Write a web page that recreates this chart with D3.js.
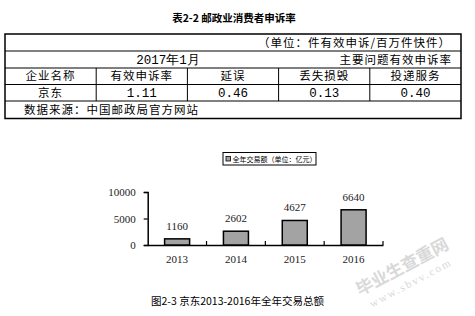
<!DOCTYPE html>
<html>
<head>
<meta charset="utf-8">
<script src="https://cdn.jsdelivr.net/npm/d3@7.9.0/dist/d3.min.js"></script>
<style>
  body { margin: 0; background: #fff; }
  svg { display: block; }
</style>
</head>
<body>
<svg id="chart" width="475" height="316"></svg>
<script>
// table data
const tableTitle = '表2-2 邮政业消费者申诉率';
const unitNote = '（单位：件有效申诉/百万件快件）';
const periodLabel = '2017年1月';
const groupLabel = '主要问题有效申诉率';
const headers = ['企业名称', '有效申诉率', '延误', '丢失损毁', '投递服务'];
const rowValues = ['京东', '1.11', '0.46', '0.13', '0.40'];
const sourceNote = '数据来源：中国邮政局官方网站';

// chart data
const years = ['2013', '2014', '2015', '2016'];
const volumes = [1160, 2602, 4627, 6640];
const yTicks = [0, 5000, 10000];
const legendLabel = '全年交易额（单位：亿元）';
const chartCaption = '图2-3 京东2013-2016年全年交易总额';

const svg = d3.select('#chart');
const cjk = '"Noto Sans CJK SC", sans-serif';
const mono = '"Liberation Mono", "DejaVu Sans Mono", monospace';
const serif = '"Liberation Serif", "DejaVu Serif", serif';
const fs = 11.5;

// ---- table ----
svg.append('text')
  .attr('x', 234).attr('y', 22)
  .attr('text-anchor', 'middle')
  .attr('font-family', cjk).attr('font-size', 10.5).attr('font-weight', 'bold')
  .text(tableTitle);

const tLeft = 5, tRight = 461;
const rowY = [34, 51, 68, 84.5, 101, 118.5];
const colX = d3.range(6).map(i => tLeft + i * (tRight - tLeft) / 5);

const t = svg.append('g');
t.append('rect')
  .attr('x', tLeft).attr('y', rowY[0])
  .attr('width', tRight - tLeft).attr('height', rowY[5] - rowY[0])
  .attr('fill', 'none').attr('stroke', '#000').attr('stroke-width', 1.5);

t.selectAll('line.h')
  .data(rowY.slice(1, 5))
  .join('line')
    .attr('x1', tLeft).attr('x2', tRight)
    .attr('y1', d => d).attr('y2', d => d)
    .attr('stroke', '#000').attr('stroke-width', 1);

t.selectAll('line.v')
  .data(colX.slice(1, 5))
  .join('line')
    .attr('x1', d => d).attr('x2', d => d)
    .attr('y1', rowY[2]).attr('y2', rowY[4])
    .attr('stroke', '#000').attr('stroke-width', 1);

function mid(i) { return (rowY[i] + rowY[i + 1]) / 2; }

t.append('text')
  .attr('x', 451).attr('y', mid(0)).attr('dy', '0.36em')
  .attr('text-anchor', 'end')
  .attr('font-family', cjk).attr('font-size', fs).attr('letter-spacing', 1)
  .text(unitNote);

t.append('text')
  .attr('x', 168).attr('y', mid(1)).attr('dy', '0.36em')
  .attr('text-anchor', 'middle')
  .attr('font-family', mono).attr('font-size', 12.5)
  .text(periodLabel);

t.append('text')
  .attr('x', 452).attr('y', mid(1)).attr('dy', '0.36em')
  .attr('text-anchor', 'end')
  .attr('font-family', cjk).attr('font-size', fs).attr('letter-spacing', 1)
  .text(groupLabel);

t.selectAll('text.head')
  .data(headers)
  .join('text')
    .attr('x', (d, i) => (colX[i] + colX[i + 1]) / 2)
    .attr('y', mid(2)).attr('dy', '0.36em')
    .attr('text-anchor', 'middle')
    .attr('font-family', cjk).attr('font-size', fs).attr('letter-spacing', 1)
    .text(d => d);

t.selectAll('text.val')
  .data(rowValues)
  .join('text')
    .attr('x', (d, i) => (colX[i] + colX[i + 1]) / 2)
    .attr('y', mid(3)).attr('dy', '0.36em')
    .attr('text-anchor', 'middle')
    .attr('font-family', (d, i) => i === 0 ? cjk : mono)
    .attr('font-size', (d, i) => i === 0 ? fs : 12.5)
    .attr('letter-spacing', (d, i) => i === 0 ? 1 : 0)
    .text(d => d);

t.append('text')
  .attr('x', 24).attr('y', mid(4)).attr('dy', '0.36em')
  .attr('font-family', cjk).attr('font-size', fs).attr('letter-spacing', 1)
  .text(sourceNote);

// ---- bar chart ----
const x = d3.scaleBand()
  .domain(years)
  .range([147.7, 383])
  .paddingInner(0.575)
  .paddingOuter(0.2875);

const y = d3.scaleLinear()
  .domain([0, 10000])
  .range([245, 192]);

const chart = svg.append('g');

// y axis
const yAxis = chart.append('g')
  .attr('transform', `translate(${x.range()[0]},0)`)
  .call(d3.axisLeft(y).tickValues(yTicks).tickFormat(d3.format('d'))
    .tickSize(4).tickSizeOuter(4).tickPadding(8));
yAxis.select('.domain').attr('stroke-width', 1.5);
yAxis.selectAll('.tick line').attr('stroke-width', 1.2);
yAxis.selectAll('.tick text')
  .attr('font-family', serif).attr('font-size', 11).attr('fill', '#222');

// x axis
const xAxis = chart.append('g')
  .attr('transform', `translate(0,${y(0)})`)
  .call(d3.axisBottom(x).tickSize(0).tickPadding(10));
xAxis.select('.domain').attr('stroke-width', 1.5);
xAxis.selectAll('.tick text')
  .attr('font-family', serif).attr('font-size', 11).attr('fill', '#222');

// category boundary ticks (pointing up)
chart.selectAll('line.bound')
  .data(years)
  .join('line')
    .attr('x1', d => x(d) + x.bandwidth() + (x.step() - x.bandwidth()) / 2)
    .attr('x2', d => x(d) + x.bandwidth() + (x.step() - x.bandwidth()) / 2)
    .attr('y1', y(0)).attr('y2', y(0) - 4)
    .attr('stroke', '#000').attr('stroke-width', 1.2);

// bars
chart.selectAll('rect.bar')
  .data(volumes)
  .join('rect')
    .attr('x', (d, i) => x(years[i]))
    .attr('y', d => y(d))
    .attr('width', x.bandwidth())
    .attr('height', d => y(0) - y(d))
    .attr('fill', '#a3a3a3')
    .attr('stroke', '#000')
    .attr('stroke-width', 1.5);

// value labels
chart.selectAll('text.lbl')
  .data(volumes)
  .join('text')
    .attr('x', (d, i) => x(years[i]) + x.bandwidth() / 2)
    .attr('y', d => y(d) - 9)
    .attr('text-anchor', 'middle')
    .attr('font-family', serif).attr('font-size', 11).attr('fill', '#222')
    .text(d => d);

// legend
const legend = chart.append('g').attr('transform', 'translate(223,152.5)');
legend.append('rect')
  .attr('width', 93).attr('height', 12.5)
  .attr('fill', '#fff').attr('stroke', '#000').attr('stroke-width', 1);
legend.append('rect')
  .attr('x', 3).attr('y', 4).attr('width', 4.5).attr('height', 4.5)
  .attr('fill', '#a3a3a3').attr('stroke', '#000').attr('stroke-width', 0.8);
legend.append('text')
  .attr('x', 9.5).attr('y', 6.5).attr('dy', '0.36em')
  .attr('font-family', cjk).attr('font-size', 7)
  .text(legendLabel);

// caption
svg.append('text')
  .attr('x', 151).attr('y', 301).attr('dy', '0.36em')
  .attr('font-family', cjk).attr('font-size', 10.5)
  .text(chartCaption);

// watermark
const wm = svg.append('g').attr('transform', 'translate(405,272) rotate(-28)');
wm.append('text')
  .attr('text-anchor', 'middle')
  .attr('font-family', cjk).attr('font-size', 17).attr('font-weight', 'bold')
  .attr('fill', '#d9d9d9')
  .text('毕业生查重网');
wm.append('text')
  .attr('y', 16).attr('text-anchor', 'middle')
  .attr('font-family', serif).attr('font-size', 11).attr('letter-spacing', 2)
  .attr('fill', '#d9d9d9')
  .text('www.sbvv.com');
</script>
</body>
</html>
